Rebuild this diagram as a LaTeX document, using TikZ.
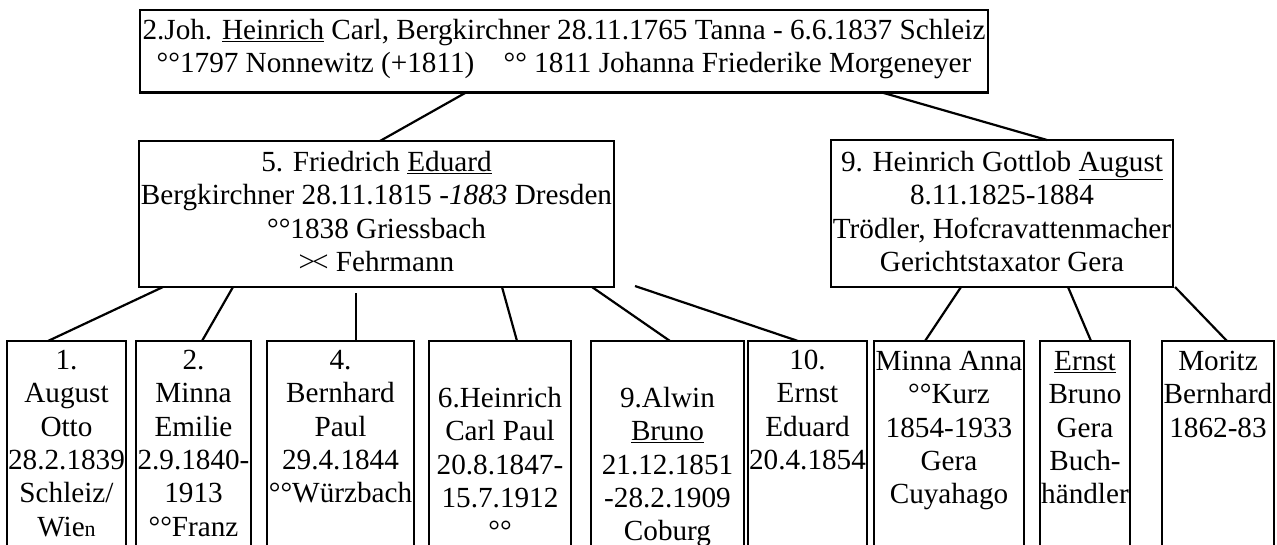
\documentclass[tikz,border=0pt]{standalone}
\usepackage{fontspec}
\setmainfont{Liberation Serif}
\usetikzlibrary{calc}
\hyphenpenalty=10000
\exhyphenpenalty=10000
% box text: width, height, top gap, lines
\newcommand{\fambox}[4]{\parbox[t][#2][t]{#1}{\vspace*{#3}\centering\strut #4}}

\begin{document}
\begin{tikzpicture}[x=1pt,y=-1pt,
  every node/.style={font=\fontsize{29.2}{33.4}\selectfont},
  fam/.style={draw,line width=2.6pt,inner sep=0pt,outer sep=0pt,anchor=north west},
  lnk/.style={line width=2.2pt}]
\useasboundingbox (0,0) rectangle (1277,544);
\clip (0,0) rectangle (1277,544);

% parents
\node[fam] (top) at (140,10) {\fambox{848pt}{82.5pt}{6pt}{\mbox{2.Joh. \underline{Heinrich} Carl, Bergkirchner 28.11.1765 Tanna - 6.6.1837 Schleiz}\\
  \mbox{°°1797 Nonnewitz (+1811)\quad °° 1811 Johanna Friederike Morgeneyer}}};
\node[fam] (ml) at (139,141) {\fambox{475pt}{146pt}{7pt}{\mbox{5. Friedrich \underline{Eduard}}\\
  \mbox{Bergkirchner 28.11.1815 -\textit{1883} Dresden}\\ \mbox{°°1838 Griessbach}\\ \mbox{>\kern-3pt< Fehrmann}}};
\node[fam] (mr) at (831,140) {\fambox{342pt}{147pt}{8pt}{\mbox{9. Heinrich Gottlob \underline{August}}\\
  8.11.1825-1884\\ \mbox{Trödler, Hofcravattenmacher}\\ \mbox{Gerichtstaxator Gera}}};

% children
\node[fam] (k1) at (7,341) {\fambox{119pt}{220pt}{5pt}{1.\\August\\Otto\\28.2.1839\\Schleiz/\\Wie{\fontsize{22}{22}\selectfont n}}};
\node[fam] (k2) at (136,341) {\fambox{115pt}{220pt}{5pt}{2.\\Minna\\Emilie\\2.9.1840-\\1913\\°°Franz}};
\node[fam] (k3) at (267,341) {\fambox{147pt}{220pt}{5pt}{4.\\Bernhard\\Paul\\29.4.1844\\°°Würzbach}};
\node[fam] (k4) at (429,341) {\fambox{142pt}{220pt}{43pt}{6.Heinrich\\Carl~Paul\\20.8.1847-\\15.7.1912\\°°}};
\node[fam] (k5) at (591,341) {\fambox{153pt}{220pt}{43pt}{9.Alwin\\\underline{Bruno}\\21.12.1851\\-28.2.1909\\Coburg}};
\node[fam] (k6) at (748,341) {\fambox{119pt}{220pt}{5pt}{10.\\Ernst\\Eduard\\20.4.1854}};
\node[fam] (k7) at (874,341) {\fambox{150pt}{220pt}{6pt}{Minna~Anna\\°°Kurz\\1854-1933\\Gera\\Cuyahago}};
\node[fam] (k8) at (1040,341) {\fambox{90pt}{220pt}{6pt}{\underline{Ernst}\\Bruno\\Gera\\Buch-\\händler}};
\node[fam] (k9) at (1162,341) {\fambox{112pt}{220pt}{6pt}{Moritz\\Bernhard\\1862-83}};

% lines
\draw[lnk] ($(top.south west)+(326,0)$) -- ($(ml.north west)+(241,0)$);
\draw[lnk] ($(top.south west)+(742,0)$) -- ($(mr.north west)+(216,0)$);
\draw[lnk] ($(ml.south west)+(24,0)$) -- ($(k1.north west)+(41,0)$);
\draw[lnk] ($(ml.south west)+(94,0)$) -- ($(k2.north west)+(66,0)$);
\draw[lnk] ($(ml.south west)+(217,6)$) -- ($(k3.north west)+(89,0)$);
\draw[lnk] ($(ml.south west)+(363,0)$) -- ($(k4.north west)+(88,0)$);
\draw[lnk] ($(ml.south west)+(453,0)$) -- ($(k5.north west)+(79,0)$);
\draw[lnk] ($(ml.south east)+(21,-1)$) -- ($(k6.north west)+(50,0)$);
\draw[lnk] ($(mr.south west)+(130,0)$) -- ($(k7.north west)+(51,0)$);
\draw[lnk] ($(mr.south west)+(237,0)$) -- ($(k8.north west)+(51,0)$);
\draw[lnk] ($(mr.south east)+(2,0)$) -- ($(k9.north west)+(65,0)$);
\end{tikzpicture}
\end{document}
